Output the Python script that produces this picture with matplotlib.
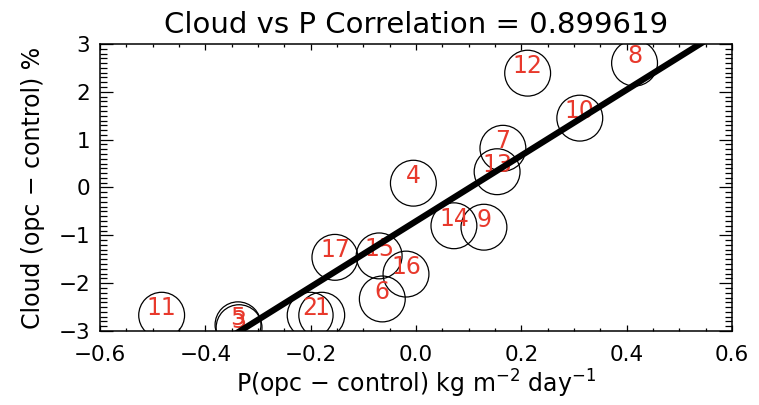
import matplotlib
matplotlib.use("Agg")
import matplotlib.pyplot as plt
from matplotlib.ticker import MultipleLocator
import numpy as np

# values
labels = ["1", "2", "3", "4", "5", "6", "7", "8", "9", "10",
          "11", "12", "13", "14", "15", "16", "17"]
dp = [-0.179, -0.201, -0.336, -0.005, -0.338, -0.064, 0.165, 0.415, 0.129, 0.311,
      -0.483, 0.212, 0.154, 0.072, -0.070, -0.019, -0.154]
dcloud = [-2.67, -2.67, -2.93, 0.09, -2.87, -2.33, 0.82, 2.60, -0.83, 1.45,
          -2.67, 2.39, 0.33, -0.80, -1.43, -1.81, -1.46]
fit_slope = 6.87
fit_intercept = -0.705
corr = 0.899619

plt.rcParams['font.family'] = ['DejaVu Sans']

fig = plt.figure(figsize=(7.59, 4.05), dpi=100)
ax = fig.add_axes([0.1318, 0.1827, 0.8326, 0.7087])

ax.scatter(dp, dcloud, s=1090, facecolors='none', edgecolors='black', linewidths=0.9, zorder=2)
for lab, x, y in zip(labels, dp, dcloud):
    ax.text(x, y, lab, color='#e8392c', fontsize=17, ha='center', va='baseline', zorder=3)

xl = np.array([-0.6, 0.6])
ax.plot(xl, fit_slope * xl + fit_intercept, color='black', lw=4.5, solid_capstyle='butt', zorder=4)

ax.set_xlim(-0.6, 0.6)
ax.set_ylim(-3, 3)
ax.xaxis.set_major_locator(MultipleLocator(0.2))
ax.xaxis.set_minor_locator(MultipleLocator(0.05))
ax.yaxis.set_major_locator(MultipleLocator(1))
ax.yaxis.set_minor_locator(MultipleLocator(0.1))
ax.xaxis.set_major_formatter(plt.FuncFormatter(lambda v, p: f"{v:.1f}".replace("-", "\u2212")))
ax.yaxis.set_major_formatter(plt.FuncFormatter(lambda v, p: f"{v:.0f}".replace("-", "\u2212")))

ax.tick_params(axis='both', which='both', direction='in', top=True, right=True, labelsize=15.5, width=0.9)
ax.tick_params(axis='x', which='major', length=4.5, pad=10)
ax.tick_params(axis='x', which='minor', length=2.5)
ax.tick_params(axis='y', which='major', length=9.5, pad=7)
ax.tick_params(axis='y', which='minor', length=5)
for s in ax.spines.values():
    s.set_linewidth(1.1)

ax.set_xlabel("P(opc \u2212 control) kg m$^{-2}$ day$^{-1}$", fontsize=17, labelpad=2)
ax.set_ylabel("Cloud (opc \u2212 control) %", fontsize=17, labelpad=10)
ax.set_title(f"Cloud vs P Correlation = {corr:.6f}", fontsize=21, pad=8)

fig.savefig("out.png", dpi=100)
